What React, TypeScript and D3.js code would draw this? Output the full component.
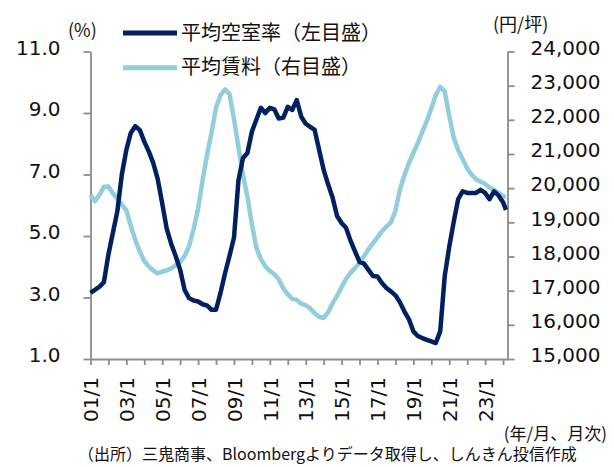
import React, { useEffect, useRef } from 'react';
import * as d3 from 'd3';

// 三鬼商事 東京ビジネス地区 (quarterly readings, 2001/1 .. 2024/1, plus 2024/3)
const vacancy = [
  3.15, 3.25, 3.35, 3.5,
  4.4, 5.1, 5.8, 7.0,
  7.8, 8.35, 8.57, 8.45,
  8.07, 7.75, 7.38, 6.85,
  6.05, 5.25, 4.75, 4.35,
  3.9, 3.25, 2.98, 2.9,
  2.87, 2.78, 2.74, 2.6,
  2.6, 3.15, 3.78, 4.35,
  4.95, 6.8, 7.53, 7.7,
  8.4, 8.78, 9.17, 9.0,
  9.17, 9.12, 8.82, 8.85,
  9.2, 9.1, 9.42, 8.88,
  8.65, 8.55, 8.45, 7.8,
  7.15, 6.68, 6.25, 5.65,
  5.42, 5.27, 4.85, 4.5,
  4.16, 4.1, 3.9, 3.7,
  3.68, 3.47, 3.31, 3.2,
  3.07, 2.85, 2.55, 2.3,
  1.9, 1.75, 1.68, 1.62,
  1.57, 1.52, 1.9, 3.7,
  4.65, 5.45, 6.2, 6.45,
  6.4, 6.4, 6.4, 6.5,
  6.4, 6.2, 6.45, 6.32,
  6.1, 5.85,
];

const rent = [
  19800, 19620, 19800, 20040,
  20050, 19850, 19700, 19520,
  19350, 18900, 18490, 18150,
  17870, 17710, 17590, 17510,
  17560, 17590, 17650, 17740,
  17840, 18010, 18300, 18800,
  19400, 20230, 20960, 21620,
  22360, 22720, 22890, 22760,
  22020, 21210, 20400, 19750,
  18940, 18250, 17930, 17710,
  17580, 17480, 17330, 17070,
  16890, 16760, 16730, 16620,
  16570, 16480, 16340, 16230,
  16200, 16370, 16630, 16850,
  17110, 17340, 17520, 17660,
  17820, 18010, 18210, 18390,
  18560, 18740, 18870, 19000,
  19340, 19950, 20370, 20730,
  21030, 21320, 21640, 21960,
  22330, 22720, 22970, 22830,
  22120, 21480, 21120, 20850,
  20580, 20400, 20260, 20190,
  20120, 20020, 19950, 19860,
  19770, 19740,
];

const dates: Date[] = [
  ...d3.timeMonth.every(3)!.range(new Date(2001, 0, 1), new Date(2024, 1, 1)),
  new Date(2024, 2, 1),
];

const leftTicks = [1, 3, 5, 7, 9, 11];
const rightTicks = [15000, 16000, 17000, 18000, 19000, 20000, 21000, 22000, 23000, 24000];

const seriesNames = ['平均空室率（左目盛）', '平均賃料（右目盛）'];
const colors = ['#002060', '#92cddc'];

const NUM_FONT = '"DejaVu Sans", Verdana, sans-serif';
const JP_FONT = '"Noto Sans CJK JP", "Noto Sans", sans-serif';

export default function App() {
  const svgRef = useRef<SVGSVGElement>(null);
  const width = 614;
  const height = 467;

  useEffect(() => {
    if (!svgRef.current) return;
    const svg = d3.select(svgRef.current);
    svg.selectAll('*').remove();

    const left = 90.5, right = 507.5, top = 51.5, bottom = 359;
    const axisColor = '#8c8c8c';

    const x = d3.scaleTime()
      .domain([new Date(2001, 0, 1), new Date(2024, 3, 1)])
      .range([left, right]);
    const yL = d3.scaleLinear().domain([1, 11]).range([bottom, top]);
    const yR = d3.scaleLinear().domain([15000, 24000]).range([bottom, top]);

    const styleAxis = (g: d3.Selection<SVGGElement, unknown, null, undefined>) => {
      g.select('.domain').attr('stroke', axisColor).attr('stroke-width', 1.8);
      g.selectAll('.tick line').attr('stroke', axisColor).attr('stroke-width', 1.8);
      g.selectAll('.tick text').attr('fill', '#111');
    };

    // left axis
    const gl = svg.append('g')
      .attr('transform', `translate(${left},0)`)
      .call(d3.axisLeft(yL).tickValues(leftTicks).tickFormat(d3.format('.1f')).tickSize(7).tickSizeOuter(0).tickPadding(23))
      .attr('font-family', NUM_FONT)
      .attr('font-size', 20);
    styleAxis(gl);
    gl.selectAll('.tick text').attr('dy', '0.14em');

    // right axis
    const gr = svg.append('g')
      .attr('transform', `translate(${right},0)`)
      .call(d3.axisRight(yR).tickValues(rightTicks).tickFormat(d3.format(',')).tickSize(7).tickSizeOuter(0).tickPadding(16))
      .attr('font-family', NUM_FONT)
      .attr('font-size', 20);
    styleAxis(gr);
    gr.selectAll('.tick text').attr('dy', '0.14em');

    // bottom axis
    const gb = svg.append('g')
      .attr('transform', `translate(0,${bottom})`)
      .call(
        d3.axisBottom(x)
          .ticks(d3.timeYear.every(1))
          .tickSize(6)
          .tickSizeOuter(0)
          .tickFormat((d) => {
            const yr = (d as Date).getFullYear();
            return yr % 2 === 1 ? `${String(yr % 100).padStart(2, '0')}/1` : '';
          })
      )
      .attr('font-family', NUM_FONT)
      .attr('font-size', 20);
    styleAxis(gb);
    gb.selectAll('.tick text')
      .attr('transform', 'rotate(-90)')
      .attr('text-anchor', 'end')
      .attr('x', -18)
      .attr('y', 0)
      .attr('dy', '0.36em');

    // lines
    const lineR = d3.line<number>()
      .x((_, i) => x(dates[i]))
      .y((d) => yR(d));
    const lineL = d3.line<number>()
      .x((_, i) => x(dates[i]))
      .y((d) => yL(d));

    svg.append('path')
      .datum(rent)
      .attr('fill', 'none')
      .attr('stroke', colors[1])
      .attr('stroke-width', 4.5)
      .attr('stroke-linejoin', 'round')
      .attr('d', lineR);

    svg.append('path')
      .datum(vacancy)
      .attr('fill', 'none')
      .attr('stroke', colors[0])
      .attr('stroke-width', 4.5)
      .attr('stroke-linejoin', 'round')
      .attr('d', lineL);

    // legend
    const legend = svg.append('g');
    seriesNames.forEach((name, i) => {
      const ly = 33 + i * 34.7;
      legend.append('line')
        .attr('x1', 123).attr('x2', 177)
        .attr('y1', ly).attr('y2', ly)
        .attr('stroke', colors[i])
        .attr('stroke-width', 5);
      legend.append('text')
        .attr('x', 181).attr('y', ly - 2)
        .attr('dominant-baseline', 'central')
        .attr('font-family', JP_FONT)
        .attr('font-size', 20)
        .attr('fill', '#111')
        .text(name);
    });

    // unit labels
    svg.append('text')
      .attr('x', 68).attr('y', 28.5)
      .attr('dominant-baseline', 'central')
      .attr('font-family', JP_FONT)
      .attr('font-size', 18)
      .attr('fill', '#111')
      .text('(%)');
    svg.append('text')
      .attr('x', 493).attr('y', 22.5)
      .attr('dominant-baseline', 'central')
      .attr('font-family', JP_FONT)
      .attr('font-size', 18)
      .attr('fill', '#111')
      .text('(円/坪)');
    svg.append('text')
      .attr('x', 607).attr('y', 432)
      .attr('text-anchor', 'end')
      .attr('dominant-baseline', 'central')
      .attr('font-family', JP_FONT)
      .attr('font-size', 17)
      .attr('fill', '#111')
      .text('(年/月、月次)');
    svg.append('text')
      .attr('x', 78).attr('y', 453)
      .attr('dominant-baseline', 'central')
      .attr('font-family', JP_FONT)
      .attr('font-size', 16)
      .attr('fill', '#111')
      .text('（出所）三鬼商事、Bloombergよりデータ取得し、しんきん投信作成');
  }, []);

  return (
    <svg
      ref={svgRef}
      width={width}
      height={height}
      style={{ position: 'absolute', left: 0, top: 0, background: '#fff' }}
    />
  );
}
